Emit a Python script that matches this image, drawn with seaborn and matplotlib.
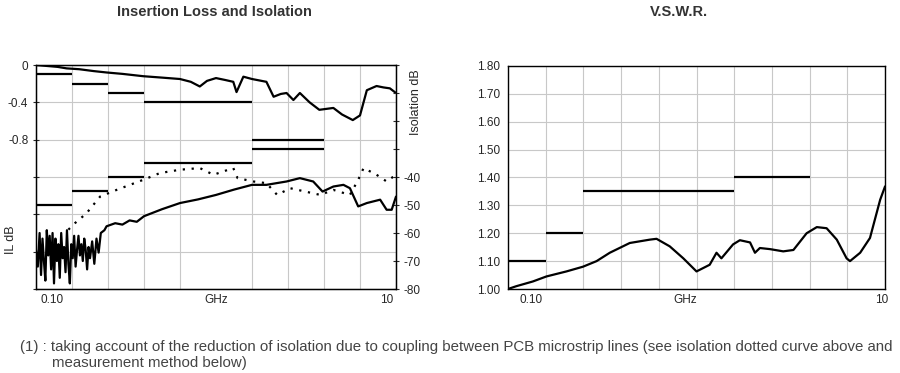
import matplotlib
matplotlib.use("Agg")
import matplotlib.pyplot as plt
import seaborn as sns

sns.set_style("white")
plt.rcParams['font.family'] = ['Liberation Sans', 'DejaVu Sans']

# x positions are in grid divisions (0 .. 10) of the log frequency axis
il_x = [0.0, 0.3, 0.6, 0.85, 1.2, 1.6, 1.96, 2.4, 2.98, 3.5, 4.0, 4.3, 4.55, 4.75, 5.0,
        5.25, 5.48, 5.57, 5.76, 6.0, 6.4, 6.6, 6.8, 6.96, 7.15, 7.33, 7.6, 7.87, 8.26,
        8.5, 8.8, 9.0, 9.19, 9.46, 9.65, 9.83, 10.0]
il_db = [0.0, -0.01, -0.02, -0.036, -0.045, -0.065, -0.08, -0.095, -0.12, -0.135, -0.15,
         -0.18, -0.23, -0.17, -0.14, -0.16, -0.18, -0.29, -0.125, -0.15, -0.18, -0.34,
         -0.31, -0.30, -0.375, -0.30, -0.40, -0.48, -0.46, -0.53, -0.59, -0.54, -0.27,
         -0.225, -0.24, -0.25, -0.30]

iso_x = [0.00, 0.05, 0.10, 0.14, 0.18, 0.22, 0.26, 0.30, 0.34, 0.38, 0.42, 0.46, 0.50,
         0.54, 0.58, 0.62, 0.66, 0.70, 0.74, 0.78, 0.82, 0.86, 0.90, 0.94, 0.98, 1.02,
         1.06, 1.10, 1.14, 1.18, 1.22, 1.26, 1.30, 1.34, 1.38, 1.42, 1.46, 1.50, 1.56,
         1.62, 1.68, 1.74, 1.80, 1.90, 1.96, 2.2, 2.4, 2.6, 2.8, 3.0, 3.5, 4.0, 4.5,
         5.0, 5.5, 6.0, 6.4, 6.96, 7.33, 7.7, 7.96, 8.26, 8.54, 8.72, 8.95, 9.19, 9.56,
         9.74, 9.88, 10.0]
iso_db = [-66, -72, -60, -75, -62, -70, -77, -59, -68, -61, -73, -60, -78, -62, -70, -64,
          -76, -60, -69, -65, -74, -59, -71, -78, -64, -69, -61, -72, -66, -61, -68, -64,
          -70, -62, -66, -73, -65, -69, -63, -71, -62, -67, -60, -59, -57.6, -56.5, -57,
          -55.5, -56, -54, -51.5, -49.3, -48, -46.4, -44.5, -42.8, -42.8, -41.6, -40.4,
          -41.6, -45.2, -43.4, -42.8, -44, -50.5, -49.3, -48.1, -51.7, -51.7, -47]

iso_pcb_x = [0.9, 1.08, 1.4, 1.78, 2.24, 2.98, 3.44, 4.0, 4.55, 4.93, 5.48, 5.6, 6.04,
             6.4, 6.7, 7.06, 7.9, 8.26, 8.72, 8.95, 9.1, 9.46, 9.74, 10.0]
iso_pcb_db = [-58.8, -56.5, -53, -47, -44.6, -41, -38.6, -37.4, -36.8, -39.2, -36.8,
              -40.4, -41.6, -42.2, -46.4, -44, -46.4, -44.6, -46.4, -41, -36.8, -39.2,
              -41.6, -39.2]

band_start = [0, 1, 2, 3, 6]
band_end = [1, 2, 3, 6, 8]
il_spec = [-0.1, -0.2, -0.3, -0.4, -0.8]
iso_spec = [-50, -45, -40, -35, -30]

vswr_x = [0, 0.22, 0.66, 1.02, 1.55, 1.99, 2.35, 2.7, 3.23, 3.76, 3.94, 4.29, 4.65, 5.0,
          5.35, 5.53, 5.66, 5.97, 6.15, 6.42, 6.55, 6.68, 6.95, 7.3, 7.57, 7.92, 8.19,
          8.45, 8.72, 8.98, 9.07, 9.34, 9.6, 9.87, 10.0]
vswr = [1.0, 1.01, 1.027, 1.045, 1.063, 1.08, 1.10, 1.13, 1.165, 1.177, 1.18, 1.153, 1.11,
        1.063, 1.087, 1.13, 1.11, 1.16, 1.175, 1.167, 1.13, 1.147, 1.143, 1.135, 1.14,
        1.20, 1.222, 1.218, 1.177, 1.11, 1.10, 1.13, 1.183, 1.32, 1.368]
vswr_start = [0, 1, 2, 6]
vswr_end = [1, 2, 6, 8]
vswr_spec = [1.10, 1.20, 1.35, 1.40]

x_labels = ["0.10", "GHz", "10"]

fig = plt.figure(figsize=(9, 3.73), dpi=100)
ax = fig.add_axes([0.04, 0.2252, 0.4, 0.6005])
ax2 = ax.twinx()
axv = fig.add_axes([0.5644, 0.2252, 0.419, 0.598])

grid_col = "#c8c8c8"
for a in (ax, axv):
    a.set_xlim(0, 10)
    a.set_xticks(range(11), minor=True)
    a.grid(True, which="minor", axis="x", color=grid_col, lw=0.8)
    a.grid(True, which="major", axis="y", color=grid_col, lw=0.8)
    for s in a.spines.values():
        s.set_color("black")
        s.set_linewidth(1.0)
    a.tick_params(axis="x", which="both", length=0, labelsize=8.5)

# insertion loss / isolation
ax.set_ylim(-2.4, 0)
ax.set_yticks([0, -0.4, -0.8, -1.2, -1.6, -2.0, -2.4])
ax.set_yticklabels(["0", "-0.4", "-0.8", "", "", "", ""])
ax.tick_params(axis="y", direction="inout", length=5, labelsize=8.5, pad=3)
ax.set_xticks([0.45, 5.0, 9.75])
ax.set_xticklabels(x_labels)
ax.set_ylabel("IL dB", fontsize=9)
ax.yaxis.set_label_coords(-0.053, 0.22)

sns.lineplot(x=il_x, y=il_db, ax=ax, color="black", lw=1.6)
ax.hlines(il_spec, band_start, band_end, color="black", lw=1.6)

ax2.set_ylim(-80, 0)
ax2.set_yticks(range(-80, 1, 10))
ax2.set_yticklabels(["-80", "-70", "-60", "-50", "-40", "", "", "", ""])
ax2.tick_params(axis="y", direction="inout", length=5, labelsize=8.5, pad=3)
ax2.set_ylabel("Isolation dB", fontsize=9)
ax2.yaxis.set_label_coords(1.039, 0.835)
for s in ax2.spines.values():
    s.set_color("black")

sns.lineplot(x=iso_x, y=iso_db, ax=ax2, color="black", lw=1.6)
sns.lineplot(x=iso_pcb_x, y=iso_pcb_db, ax=ax2, color="black", lw=1.6,
             linestyle=(0, (1, 3)))
ax2.hlines(iso_spec, band_start, band_end, color="black", lw=1.6)

# vswr
axv.set_ylim(1.0, 1.8)
axv.set_yticks([1.0 + 0.1 * i for i in range(9)])
axv.set_yticklabels([f"{1.0 + 0.1 * i:.2f}" for i in range(9)])
axv.tick_params(axis="y", direction="inout", length=5, labelsize=8.5, pad=3)
axv.set_xticks([0.6, 4.7, 9.9])
axv.set_xticklabels(x_labels)
sns.lineplot(x=vswr_x, y=vswr, ax=axv, color="black", lw=1.6)
axv.hlines(vswr_spec, vswr_start, vswr_end, color="black", lw=1.6)

fig.text(214 / 900, 0.968, "Insertion Loss and Isolation", fontsize=10.5,
         fontweight="bold", color="#333333", ha="center", va="center")
fig.text(679 / 900, 0.968, "V.S.W.R.", fontsize=10.5, fontweight="bold",
         color="#333333", ha="center", va="center")

fig.text(20 / 900, 0.0697, "(1) : taking account of the reduction of isolation due to "
         "coupling between PCB microstrip lines (see isolation dotted curve above and",
         fontsize=10.8, color="#444444", va="center")
fig.text(52 / 900, 0.0268, "measurement method below)", fontsize=10.8, color="#444444",
         va="center")

fig.savefig("out.png", dpi=100)
